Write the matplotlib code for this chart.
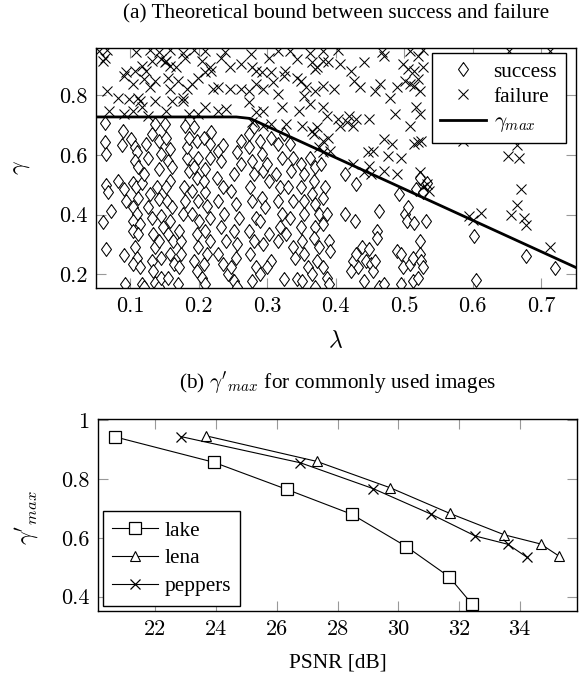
import matplotlib
matplotlib.use("Agg")
import matplotlib.pyplot as plt
from matplotlib.ticker import FixedLocator, FuncFormatter

plt.rcParams['font.family'] = ['Liberation Serif', 'DejaVu Serif']
plt.rcParams['mathtext.fontset'] = 'cm'
plt.rcParams['font.size'] = 15.3

# ---------------- (a) data ----------------
success_lambda = [
    0.064, 0.063, 0.065, 0.065, 0.068, 0.072, 0.061, 0.065, 0.090, 0.089, 0.083, 0.091, 0.094, 0.091, 0.092,
    0.102, 0.107, 0.110, 0.107, 0.111, 0.104, 0.109, 0.112, 0.104, 0.110, 0.104, 0.114, 0.105, 0.112, 0.107,
    0.110, 0.104, 0.115, 0.118, 0.121, 0.118, 0.121, 0.126, 0.123, 0.129, 0.126, 0.132, 0.134, 0.137, 0.132,
    0.134, 0.137, 0.142, 0.145, 0.145, 0.142, 0.148, 0.145, 0.142, 0.140, 0.142, 0.145, 0.142, 0.137, 0.132,
    0.151, 0.153, 0.159, 0.156, 0.161, 0.159, 0.153, 0.154, 0.161, 0.159, 0.156, 0.163, 0.158, 0.164, 0.156,
    0.170, 0.172, 0.175, 0.175, 0.172, 0.178, 0.180, 0.179, 0.186, 0.183, 0.183, 0.186, 0.180, 0.194, 0.197,
    0.199, 0.194, 0.197, 0.191, 0.199, 0.191, 0.201, 0.197, 0.199, 0.194, 0.197, 0.205, 0.210, 0.208, 0.213,
    0.216, 0.210, 0.216, 0.213, 0.210, 0.208, 0.210, 0.216, 0.216, 0.208, 0.218,
    0.229, 0.232, 0.227, 0.235, 0.229, 0.237, 0.232, 0.240, 0.229, 0.235, 0.243, 0.251, 0.256, 0.248, 0.254,
    0.256, 0.251, 0.259, 0.254, 0.248, 0.251, 0.262, 0.256, 0.262, 0.273, 0.273, 0.278, 0.281, 0.275, 0.278,
    0.284, 0.273, 0.281, 0.275, 0.284, 0.289, 0.278, 0.236, 0.281, 0.305,
    0.289, 0.292, 0.294, 0.300, 0.303, 0.292, 0.297, 0.289, 0.303, 0.294, 0.305, 0.300, 0.316, 0.319, 0.322,
    0.316, 0.319, 0.313, 0.322, 0.316, 0.324, 0.333, 0.338, 0.335, 0.330, 0.338, 0.333, 0.327, 0.338, 0.341,
    0.324, 0.343, 0.351,
    0.349, 0.354, 0.349, 0.354, 0.354, 0.349, 0.351, 0.354, 0.360, 0.365, 0.370, 0.362, 0.370, 0.368, 0.365,
    0.370, 0.376, 0.370, 0.368, 0.376, 0.373, 0.381, 0.387, 0.384, 0.381, 0.387, 0.381, 0.390, 0.392, 0.390,
    0.379,
    0.414, 0.428, 0.414, 0.430, 0.433, 0.425, 0.422, 0.430, 0.438, 0.444, 0.441, 0.449, 0.452, 0.455, 0.457,
    0.463, 0.460, 0.460, 0.463, 0.471,
    0.490, 0.495, 0.498, 0.501, 0.506, 0.504, 0.509, 0.512, 0.512, 0.520, 0.514, 0.523, 0.523, 0.525, 0.528,
    0.531, 0.533, 0.517, 0.493, 0.495, 0.523, 0.528,
    0.602, 0.678, 0.720, 0.605,
]
success_gamma = [
    0.708, 0.644, 0.602, 0.499, 0.474, 0.412, 0.376, 0.284, 0.681, 0.634, 0.513, 0.485, 0.446, 0.265, 0.169,
    0.653, 0.625, 0.608, 0.580, 0.558, 0.507, 0.491, 0.457, 0.424, 0.401, 0.379, 0.368, 0.345, 0.334, 0.290,
    0.256, 0.234, 0.223, 0.167, 0.156, 0.507, 0.535, 0.591, 0.636, 0.468, 0.424, 0.390, 0.334, 0.290, 0.245,
    0.211, 0.172, 0.156, 0.189, 0.256, 0.312, 0.357, 0.396, 0.452, 0.491, 0.552, 0.602, 0.647, 0.703, 0.669,
    0.703, 0.658, 0.619, 0.580, 0.558, 0.513, 0.491, 0.446, 0.424, 0.379, 0.334, 0.312, 0.267, 0.234, 0.189,
    0.167, 0.223, 0.267, 0.312, 0.345, 0.401, 0.446, 0.491, 0.547, 0.591, 0.625, 0.658, 0.697, 0.692, 0.647,
    0.591, 0.558, 0.524, 0.480, 0.446, 0.401, 0.379, 0.334, 0.290, 0.245, 0.211, 0.189, 0.167, 0.234, 0.267,
    0.312, 0.345, 0.390, 0.429, 0.474, 0.513, 0.552, 0.591, 0.636, 0.658, 0.675,
    0.613, 0.580, 0.524, 0.491, 0.446, 0.401, 0.357, 0.312, 0.267, 0.234, 0.200, 0.178, 0.156, 0.223, 0.256,
    0.301, 0.345, 0.390, 0.435, 0.480, 0.535, 0.569, 0.608, 0.647, 0.669, 0.625, 0.580, 0.535, 0.491, 0.446,
    0.390, 0.345, 0.312, 0.267, 0.223, 0.200, 0.178, 0.634, 0.692, 0.658,
    0.647, 0.602, 0.547, 0.569, 0.513, 0.457, 0.424, 0.379, 0.334, 0.301, 0.245, 0.223, 0.312, 0.357, 0.401,
    0.446, 0.491, 0.535, 0.591, 0.636, 0.669, 0.636, 0.591, 0.547, 0.491, 0.446, 0.390, 0.334, 0.290, 0.256,
    0.183, 0.183, 0.178,
    0.569, 0.535, 0.491, 0.446, 0.401, 0.357, 0.312, 0.267, 0.223, 0.200, 0.156, 0.591, 0.558, 0.513, 0.468,
    0.435, 0.401, 0.357, 0.323, 0.290, 0.245, 0.223, 0.189, 0.491, 0.457, 0.401, 0.368, 0.312, 0.278, 0.167,
    0.569,
    0.401, 0.379, 0.535, 0.502, 0.223, 0.245, 0.211, 0.267, 0.290, 0.245, 0.178, 0.284, 0.234, 0.211, 0.245,
    0.412, 0.345, 0.323, 0.156, 0.167,
    0.278, 0.267, 0.223, 0.401, 0.424, 0.379, 0.234, 0.256, 0.178, 0.189, 0.373, 0.312, 0.267, 0.245, 0.223,
    0.379, 0.507, 0.485, 0.468, 0.167, 0.524, 0.474,
    0.327, 0.260, 0.221, 0.182,
]

failure_lambda = [
    0.055, 0.066, 0.109, 0.129, 0.142, 0.158, 0.178, 0.194, 0.210, 0.239, 0.276, 0.316, 0.333, 0.362, 0.381,
    0.403, 0.468, 0.509, 0.528, 0.653, 0.713,
    0.061, 0.064, 0.094, 0.107, 0.118, 0.124, 0.132, 0.145, 0.151, 0.153, 0.159, 0.167, 0.180, 0.205, 0.216,
    0.218, 0.232, 0.246, 0.262, 0.278, 0.284, 0.292, 0.303, 0.305, 0.326, 0.343, 0.365, 0.370, 0.373, 0.381,
    0.389, 0.406, 0.422, 0.441, 0.471, 0.498, 0.506, 0.514, 0.520, 0.528,
    0.066, 0.083, 0.091, 0.104, 0.112, 0.121, 0.129, 0.137, 0.156, 0.159, 0.170, 0.178, 0.183, 0.191, 0.199,
    0.210, 0.221, 0.229, 0.246, 0.262, 0.273, 0.284, 0.294, 0.308, 0.316, 0.324, 0.343, 0.349, 0.354, 0.357,
    0.370, 0.381, 0.398, 0.427, 0.436, 0.457, 0.465, 0.479, 0.490, 0.501, 0.509, 0.514, 0.520, 0.523,
    0.069, 0.091, 0.099, 0.104, 0.115, 0.118, 0.126, 0.137, 0.153, 0.161, 0.178, 0.186, 0.199, 0.210, 0.229,
    0.240, 0.273, 0.284, 0.294, 0.322, 0.346, 0.362, 0.381, 0.387, 0.403, 0.419, 0.430, 0.449, 0.487, 0.509,
    0.517, 0.523,
    0.278, 0.294, 0.305, 0.327, 0.351, 0.365, 0.368, 0.373, 0.381, 0.389, 0.406, 0.417, 0.425, 0.471, 0.482,
    0.514, 0.520, 0.525,
    0.447, 0.455, 0.476, 0.495, 0.381, 0.392, 0.376, 0.425, 0.441, 0.452, 0.471, 0.490, 0.523, 0.533, 0.528,
    0.449, 0.536,
    0.585, 0.665, 0.651, 0.667, 0.670, 0.665, 0.656, 0.674, 0.678, 0.594, 0.600, 0.612, 0.713,
]
failure_gamma = [
    0.949, 0.951, 0.943, 0.952, 0.943, 0.951, 0.941, 0.951, 0.949, 0.943, 0.937, 0.949, 0.949, 0.941, 0.949,
    0.951, 0.943, 0.949, 0.952, 0.949, 0.949,
    0.915, 0.926, 0.876, 0.882, 0.898, 0.882, 0.915, 0.921, 0.910, 0.915, 0.898, 0.893, 0.926, 0.915, 0.893,
    0.882, 0.926, 0.893, 0.904, 0.893, 0.882, 0.876, 0.926, 0.876, 0.882, 0.921, 0.910, 0.887, 0.893, 0.915,
    0.910, 0.904, 0.882, 0.910, 0.932, 0.904, 0.887, 0.882, 0.932, 0.893,
    0.815, 0.792, 0.865, 0.837, 0.792, 0.854, 0.828, 0.848, 0.859, 0.820, 0.848, 0.792, 0.820, 0.837, 0.859,
    0.876, 0.820, 0.826, 0.820, 0.820, 0.815, 0.837, 0.820, 0.843, 0.803, 0.865, 0.859, 0.848, 0.798, 0.826,
    0.815, 0.831, 0.820, 0.848, 0.826, 0.815, 0.837, 0.792, 0.826, 0.848, 0.837, 0.831, 0.854, 0.815,
    0.748, 0.736, 0.787, 0.748, 0.781, 0.759, 0.731, 0.781, 0.748, 0.781, 0.781, 0.736, 0.736, 0.759, 0.748,
    0.753, 0.776, 0.742, 0.748, 0.759, 0.748, 0.770, 0.759, 0.731, 0.720, 0.731, 0.720, 0.720, 0.736, 0.697,
    0.759, 0.736,
    0.709, 0.697, 0.703, 0.703, 0.697, 0.681, 0.669, 0.692, 0.647, 0.658, 0.697, 0.709, 0.697, 0.653, 0.636,
    0.636, 0.642, 0.647,
    0.608, 0.613, 0.597, 0.591, 0.608, 0.613, 0.625, 0.569, 0.541, 0.535, 0.547, 0.535, 0.541, 0.502, 0.491,
    0.563, 0.478,
    0.647, 0.633, 0.595, 0.590, 0.484, 0.431, 0.400, 0.389, 0.366, 0.394, 0.383, 0.405, 0.293,
]

bound_lambda = [0.05, 0.255, 0.275, 0.75]
bound_gamma = [0.727, 0.727, 0.722, 0.223]

# ---------------- (b) data ----------------
lake_psnr = [20.68, 23.92, 26.32, 28.47, 30.27, 31.67, 32.42]
lake_gamma = [0.943, 0.857, 0.765, 0.680, 0.570, 0.468, 0.376]
lena_psnr = [23.66, 27.31, 29.74, 31.70, 33.50, 34.69, 35.31]
lena_gamma = [0.947, 0.860, 0.770, 0.683, 0.610, 0.579, 0.537]
peppers_psnr = [22.85, 26.78, 29.18, 31.09, 32.54, 33.61, 34.24]
peppers_gamma = [0.944, 0.855, 0.767, 0.680, 0.606, 0.578, 0.534]

xticks_a = [0.1, 0.2, 0.3, 0.4, 0.5, 0.6, 0.7]
yticks_a = [0.2, 0.4, 0.6, 0.8]
xticks_b = [22, 24, 26, 28, 30, 32, 34]
yticks_b = [0.4, 0.6, 0.8, 1.0]

W, H = 580, 678
fig = plt.figure(figsize=(W / 100, H / 100), dpi=100)

def px_axes(l, r, t, b):
    return fig.add_axes([l / W, 1 - b / H, (r - l) / W, (b - t) / H])

diamond = [(0, 1), (0.72, 0), (0, -1), (-0.72, 0), (0, 1)]

def style_axes(ax):
    for s in ax.spines.values():
        s.set_linewidth(1.0)
        s.set_color('black')
    ax.tick_params(direction='in', length=7, width=0.8, color='0.6',
                   top=True, right=True, labelsize=16, pad=6,
                   labelfontfamily='cmr10')

TXT = 15.3

# ---- top panel ----
ax1 = px_axes(95.7, 575.7, 48.3, 287.7)
ax1.plot(success_lambda, success_gamma, ls='none', marker=diamond, ms=10,
         mfc='white', mec='black', mew=0.75, label='success')
ax1.plot(failure_lambda, failure_gamma, ls='none', marker='x', ms=7,
         mec='black', mew=0.75, label='failure')
ax1.plot(bound_lambda, bound_gamma, color='black', lw=2.0, label=r'$\gamma_{max}$')
ax1.set_xlim(0.05, 0.75)
ax1.set_ylim(0.155, 0.957)
ax1.xaxis.set_major_locator(FixedLocator(xticks_a))
ax1.yaxis.set_major_locator(FixedLocator(yticks_a))
ax1.xaxis.set_major_formatter(FuncFormatter(lambda v, p: f"{v:.1f}"))
ax1.yaxis.set_major_formatter(FuncFormatter(lambda v, p: f"{v:.1f}"))
style_axes(ax1)
leg1 = ax1.legend(loc='upper right', bbox_to_anchor=(565.7 / W, 1 - 53.3 / H),
                  bbox_transform=fig.transFigure, borderaxespad=0, numpoints=1,
                  fancybox=False, framealpha=1, edgecolor='black', fontsize=TXT,
                  handlelength=2.15, handletextpad=0.35, labelspacing=0.25,
                  borderpad=0.4)
leg1.get_frame().set_linewidth(1.0)

fig.text(335.7 / W, 1 - 13.5 / H, '(a) Theoretical bound between success and failure',
         ha='center', va='center', fontsize=TXT)
fig.text(335.7 / W, 1 - 341 / H, r'$\lambda$', ha='center', va='center', fontsize=17)
fig.text(21.7 / W, 1 - 168 / H, r'$\gamma$', ha='center', va='center', fontsize=17, rotation=90)

# ---- bottom panel ----
ax2 = px_axes(97.7, 577.3, 419.3, 611.0)
ax2.plot(lake_psnr, lake_gamma, color='black', lw=0.8, marker='s', ms=8.5,
         mfc='white', mec='black', mew=0.9, label='lake')
ax2.plot(lena_psnr, lena_gamma, color='black', lw=0.8, marker='^', ms=7,
         mfc='white', mec='black', mew=0.8, label='lena')
ax2.plot(peppers_psnr, peppers_gamma, color='black', lw=0.8, marker='x', ms=6.5,
         mec='black', mew=0.9, label='peppers')
ax2.set_xlim(20.1, 35.9)
ax2.set_ylim(0.351, 1.003)
ax2.xaxis.set_major_locator(FixedLocator(xticks_b))
ax2.yaxis.set_major_locator(FixedLocator(yticks_b))
ax2.xaxis.set_major_formatter(FuncFormatter(lambda v, p: f"{v:g}"))
ax2.yaxis.set_major_formatter(FuncFormatter(lambda v, p: f"{v:g}"))
style_axes(ax2)
leg2 = ax2.legend(loc='lower left', bbox_to_anchor=(102.7 / W, 1 - 605.7 / H),
                  bbox_transform=fig.transFigure, borderaxespad=0,
                  fancybox=False, framealpha=1, edgecolor='black', fontsize=TXT,
                  handlelength=2.15, handletextpad=0.3, labelspacing=0.37,
                  borderpad=0.45)
leg2.get_frame().set_linewidth(1.0)

fig.text(337.5 / W, 1 - 383 / H, r"(b) $\gamma'_{max}$ for commonly used images",
         ha='center', va='center', fontsize=TXT)
fig.text(337.5 / W, 1 - 663 / H, 'PSNR [dB]', ha='center', va='center', fontsize=TXT)
fig.text(26.7 / W, 1 - 518 / H, r"$\gamma'_{max}$", ha='center', va='center',
         fontsize=17, rotation=90)

fig.savefig('out.png', dpi=100)
